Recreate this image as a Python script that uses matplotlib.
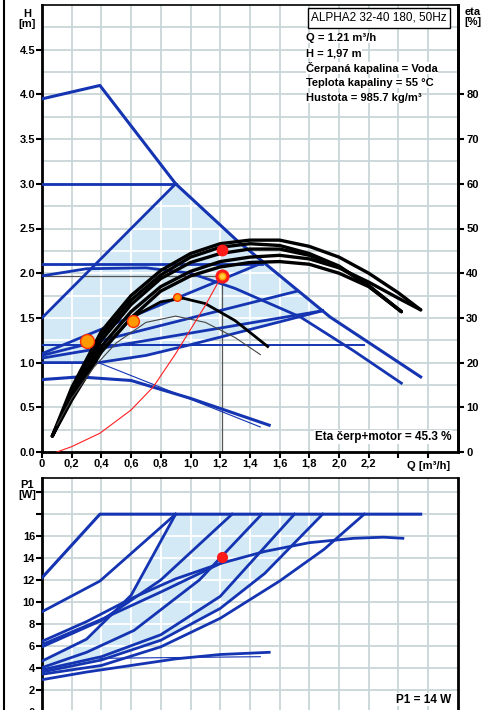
import matplotlib
matplotlib.use("Agg")
import matplotlib.pyplot as plt
from matplotlib.patches import Polygon
from matplotlib.lines import Line2D

plt.rcParams['font.family'] = ['Liberation Sans', 'DejaVu Sans']

BLUE = '#1434b2'
GRID = '#c9d5d9'
FILL = '#d3e9f5'
W, H = 483, 710

# ---------------- top chart: H [m] over Q [m3/h] ----------------
max_q = [0, 0.39, 0.9, 1.31, 1.94, 2.55]
max_h = [3.95, 4.10, 3.0, 2.37, 1.51, 0.84]
cp3_q, cp3_h = [0, 0.9], [3.0, 3.0]
pp3_q, pp3_h = [0, 0.9], [1.5, 3.0]
cp2_q, cp2_h = [0, 1.48], [2.1, 2.1]
cc2_q = [0, 0.3, 0.7, 1.0, 1.3, 1.74, 2.1, 2.42]
cc2_h = [1.97, 2.05, 2.06, 2.0, 1.83, 1.51, 1.13, 0.77]
ppa_q, ppa_h = [0, 1.49], [1.10, 2.12]
ppb_q, ppb_h = [0, 1.72], [1.08, 1.80]
ppc_q, ppc_h = [0, 1.89], [1.05, 1.58]
low_q = [0, 0.38, 0.7, 1.0, 1.4, 1.89]
low_h = [1.0, 1.0, 1.08, 1.2, 1.37, 1.58]
cp1_q, cp1_h = [0, 2.17], [1.2, 1.2]
cc1_q = [0, 0.25, 0.6, 1.0, 1.53]
cc1_h = [0.81, 0.84, 0.80, 0.60, 0.30]
thin_q, thin_h = [0.38, 1.47], [1.0, 0.28]

# efficiency curves, eta [%]
eq_a = [0.07, 0.2, 0.4, 0.6, 0.8, 1.0, 1.2, 1.4, 1.6, 1.8, 2.0, 2.2, 2.4, 2.55]
eq_b = [0.07, 0.2, 0.4, 0.6, 0.8, 1.0, 1.2, 1.4, 1.6, 1.8, 2.0, 2.2, 2.42]
eta1 = [3.6, 14.4, 27, 35, 40.6, 44.4, 46.6, 47.4, 47.4, 46, 43.6, 40, 35.6, 31.8]
eta2 = [3.6, 13.6, 26, 34, 39.6, 43.6, 45.8, 46.6, 46.2, 44.4, 41.6, 37.2, 31.4]
eta3 = [3.6, 13, 25, 33, 38.8, 42.4, 44.4, 45.4, 45.4, 44, 41.4, 37.2, 31.4]
eta4 = [3.6, 12.4, 23.6, 31.4, 37, 40.4, 42.6, 43.6, 44, 43.2, 41.2, 38, 34.4, 31.8]
eta5 = [3.6, 11.6, 22.4, 30, 36, 39.4, 41.4, 42.4, 42.6, 42, 40, 37, 31.4]
eta6_q = [0.07, 0.2, 0.4, 0.6, 0.8, 0.95, 1.1, 1.3, 1.52]
eta6 = [3.6, 11.8, 22.6, 30, 33.6, 34.4, 33.2, 29.4, 23.6]
eta7_q = [0.1, 0.2, 0.35, 0.5, 0.7, 0.9, 1.1, 1.3, 1.47]
eta7 = [6, 12, 19, 24.4, 29, 30.4, 29, 25.6, 21.8]

# system curve (red) and duty point
sys_q = [0.1, 0.2, 0.39, 0.6, 0.75, 0.9, 1.0, 1.1, 1.21]
sys_h = [0.0, 0.06, 0.21, 0.47, 0.73, 1.1, 1.37, 1.64, 1.97]
duty_q, duty_h, duty_eta = 1.21, 1.97, 45.3
auto_q = [0.3, 0.61, 0.91]
auto_h = [1.24, 1.47, 1.73]
auto_ms = [10, 8.5, 5.5]

# ---------------- bottom chart: P1 [W] over Q ----------------
pmax_q, pmax_p = [0, 0.39, 2.55], [12.2, 18.0, 18.0]
p_lines = [
    ([0, 0.39, 0.9], [9.1, 11.9, 18.0]),
    ([0, 0.3, 0.6, 0.9], [4.6, 6.6, 10.6, 18.0]),
    ([0, 0.4, 0.8, 1.28], [5.9, 8.3, 12.0, 18.0]),
    ([0, 0.3, 0.62, 1.06, 1.48], [4.0, 5.4, 7.4, 12.0, 18.0]),
    ([0, 0.4, 0.8, 1.2, 1.7], [3.8, 5.0, 7.0, 10.5, 18.0]),
    ([0, 0.4, 0.8, 1.2, 1.5, 1.89], [3.6, 4.7, 6.5, 9.4, 12.6, 18.0]),
    ([0, 0.4, 0.8, 1.2, 1.6, 1.9, 2.17], [3.4, 4.2, 5.9, 8.5, 11.9, 14.8, 18.0]),
    ([0, 0.3, 0.6, 0.9, 1.2, 1.5, 1.8, 2.1, 2.3, 2.43],
     [6.4, 8.2, 10.3, 12.1, 13.5, 14.6, 15.4, 15.8, 15.9, 15.8]),
    ([0, 0.4, 0.8, 1.2], [6.1, 8.4, 10.9, 13.5]),
    ([0, 0.3, 0.6, 0.9, 1.2, 1.53], [2.9, 3.6, 4.2, 4.8, 5.2, 5.4]),
]
pthin_q, pthin_p = [0.39, 1.47], [4.85, 5.0]
p_duty = 14.1


def fx(px):
    return px / W


def fy(py):
    return 1 - py / H


fig = plt.figure(figsize=(W / 100, H / 100), dpi=100)

# ============ top panel ============
ax = fig.add_axes([fx(42), fy(452), fx(457.8) - fx(42), (452 - 5) / H])
ax.set_xlim(0, 2.8)
ax.set_ylim(0, 5.0)
xt = [i * 0.2 for i in range(14)]
ax.set_xticks(xt)
ax.set_xticklabels(['0', '0,2', '0,4', '0,6', '0,8', '1,0', '1,2', '1,4', '1,6',
                    '1,8', '2,0', '2,2', '', ''])
ax.set_yticks([i * 0.5 for i in range(10)])
ax.set_yticks([i * 0.25 for i in range(20)], minor=True)
ax.tick_params(which='minor', length=0)
ax.tick_params(which='major', length=4, width=1.5, pad=1, labelsize=8)
for lab in ax.get_xticklabels() + ax.get_yticklabels():
    lab.set_fontweight('bold')
ax.grid(True, which='both', color=GRID, lw=1.3, zorder=0)
ax.set_axisbelow(True)
for s in ['left', 'bottom', 'right']:
    ax.spines[s].set_linewidth(2)
ax.spines['top'].set_linewidth(1.2)

poly_pts = [(0, 1.0), (0, 1.5), (0.9, 3.0), (1.31, 2.37), (1.89, 1.58),
            (1.4, 1.37), (1.0, 1.2), (0.7, 1.08), (0.38, 1.0)]
poly = Polygon(poly_pts, closed=True, fc=FILL, ec='none', zorder=1)
ax.add_patch(poly)
for q in xt[1:]:
    ln = ax.axvline(q, color='white', lw=1.3, zorder=1.5)
    ln.set_clip_path(poly)
for h in [i * 0.25 for i in range(1, 20)]:
    ln = ax.axhline(h, color='white', lw=1.3, zorder=1.5)
    ln.set_clip_path(poly)

ax.plot(max_q, max_h, color=BLUE, lw=2.2, zorder=3)
ax.plot(cp3_q, cp3_h, color=BLUE, lw=2.0, zorder=3)
ax.plot(pp3_q, pp3_h, color=BLUE, lw=2.0, zorder=3)
ax.plot(cp2_q, cp2_h, color=BLUE, lw=2.0, zorder=3)
ax.plot(cc2_q, cc2_h, color=BLUE, lw=2.0, zorder=3)
ax.plot(ppa_q, ppa_h, color=BLUE, lw=2.0, zorder=3)
ax.plot(ppb_q, ppb_h, color=BLUE, lw=2.0, zorder=3)
ax.plot(ppc_q, ppc_h, color=BLUE, lw=2.0, zorder=3)
ax.plot(low_q, low_h, color=BLUE, lw=2.0, zorder=3)
ax.plot(cp1_q, cp1_h, color=BLUE, lw=1.4, zorder=3)
ax.plot(cc1_q, cc1_h, color=BLUE, lw=2.2, zorder=3)
ax.plot(thin_q, thin_h, color=BLUE, lw=0.8, zorder=3)

# duty point guide lines
ax.plot([0, duty_q], [duty_h, duty_h], color='#555555', lw=0.9, zorder=2)
ax.plot([duty_q, duty_q], [0, duty_h], color='#555555', lw=0.9, zorder=2)

ax2 = ax.twinx()
ax2.set_ylim(0, 100)
ax2.set_yticks(range(0, 90, 10))
ax2.tick_params(length=4, width=1.5, pad=2, labelsize=8)
for lab in ax2.get_yticklabels():
    lab.set_fontweight('bold')
for s in ['left', 'bottom', 'top']:
    ax2.spines[s].set_visible(False)
ax2.spines['right'].set_linewidth(2)

for q, e in [(eq_a, eta1), (eq_b, eta2), (eq_b, eta3), (eq_a, eta4), (eq_b, eta5)]:
    ax2.plot(q, e, color='black', lw=2.4, solid_capstyle='round', zorder=4)
ax2.plot(eta6_q, eta6, color='black', lw=2.0, zorder=4)
ax2.plot(eta7_q, eta7, color='#444444', lw=0.8, zorder=4)
ax2.plot(sys_q, sys_h, color='#ff2020', lw=0.8, transform=ax.transData, zorder=5)
for q, h, ms in zip(auto_q, auto_h, auto_ms):
    ax2.plot([q], [h], 'o', ms=ms, mfc='#ff9a00', mec='#ff3000', mew=1.0,
             transform=ax.transData, zorder=6)
ax2.plot([duty_q], [duty_eta], 'o', ms=7.5, color='#ff1a1a', zorder=6)
ax2.plot([duty_q], [duty_h], 'o', ms=8, mfc='#ff9a00', mec='#ff1a1a', mew=2.2,
         transform=ax.transData, zorder=6)
ax2.plot([duty_q], [duty_h], 'o', ms=2.5, color='#ffd040',
         transform=ax.transData, zorder=7)
ax2.set_xlim(0, 2.8)

ax.text(2.6, -0.1, 'Q [m³/h]', ha='center', va='top', fontsize=8, fontweight='bold')
ax.text(0.985, 0.02, 'Eta čerp+motor = 45.3 %', transform=ax.transAxes,
        ha='right', va='bottom', fontsize=8.5, fontweight='bold',
        bbox=dict(fc='white', ec='none', pad=0.5))

fig.text(fx(379), fy(18), 'ALPHA2 32-40 180, 50Hz', ha='center', va='center',
         fontsize=8.5, bbox=dict(boxstyle='square,pad=0.3', fc='white', ec='black', lw=1))
info = ['Q = 1.21 m³/h', 'H = 1,97 m', 'Čerpaná kapalina = Voda',
        'Teplota kapaliny = 55 °C', 'Hustota = 985.7 kg/m³']
for i, t in enumerate(info):
    fig.text(fx(306), fy(38 + 15 * i), t, ha='left', va='center', fontsize=8,
             fontweight='bold', bbox=dict(fc='white', ec='none', pad=0.3))
fig.text(fx(27), fy(19), 'H\n[m]', ha='center', va='center', fontsize=8,
         fontweight='bold', linespacing=0.95)
fig.text(fx(473), fy(17), 'eta\n[%]', ha='center', va='center', fontsize=8,
         fontweight='bold', linespacing=0.95)

# ============ bottom panel ============
bx = fig.add_axes([fx(42), fy(711.5), fx(457.8) - fx(42), (711.5 - 478) / H])
bx.set_xlim(0, 2.8)
bx.set_ylim(0, 21.3)
bx.set_xticks(xt)
bx.set_xticklabels([])
bx.tick_params(axis='x', length=0)
bx.set_yticks(range(0, 21, 2))
bx.set_yticklabels(['0', '2', '4', '6', '8', '10', '12', '14', '16', '', ''])
bx.tick_params(axis='y', length=4, width=1.5, pad=1, labelsize=8)
for lab in bx.get_yticklabels():
    lab.set_fontweight('bold')
bx.grid(True, color=GRID, lw=1.3, zorder=0)
bx.set_axisbelow(True)
bx.spines['left'].set_linewidth(2)
bx.spines['right'].set_linewidth(2)
bx.spines['top'].set_linewidth(1.2)

bpts = [(0, 3.6), (0, 4.6), (0.3, 6.6), (0.6, 10.6), (0.9, 18.0), (1.89, 18.0),
        (1.5, 12.6), (1.2, 9.4), (0.8, 6.5), (0.4, 4.7)]
bpoly = Polygon(bpts, closed=True, fc=FILL, ec='none', zorder=1)
bx.add_patch(bpoly)
for q in xt[1:]:
    ln = bx.axvline(q, color='white', lw=1.3, zorder=1.5)
    ln.set_clip_path(bpoly)
for p in range(2, 21, 2):
    ln = bx.axhline(p, color='white', lw=1.3, zorder=1.5)
    ln.set_clip_path(bpoly)

bx.plot(pmax_q, pmax_p, color=BLUE, lw=2.2, zorder=3)
for q, p in p_lines:
    bx.plot(q, p, color=BLUE, lw=2.0, zorder=3)
bx.plot(pthin_q, pthin_p, color=BLUE, lw=0.8, zorder=3)
bx.plot([duty_q], [p_duty], 'o', ms=7, color='#ff1a1a', zorder=6)

bx.text(0.985, 0.025, 'P1 = 14 W', transform=bx.transAxes, ha='right',
        va='bottom', fontsize=8.5, fontweight='bold',
        bbox=dict(fc='white', ec='none', pad=0.5))
fig.text(fx(27), fy(490), 'P1\n[W]', ha='center', va='center', fontsize=8,
         fontweight='bold', linespacing=0.95)

fig.add_artist(Line2D([fx(3.5), fx(3.5)], [0, 1], color='black', lw=1.5))

fig.savefig('out.png', dpi=100)
